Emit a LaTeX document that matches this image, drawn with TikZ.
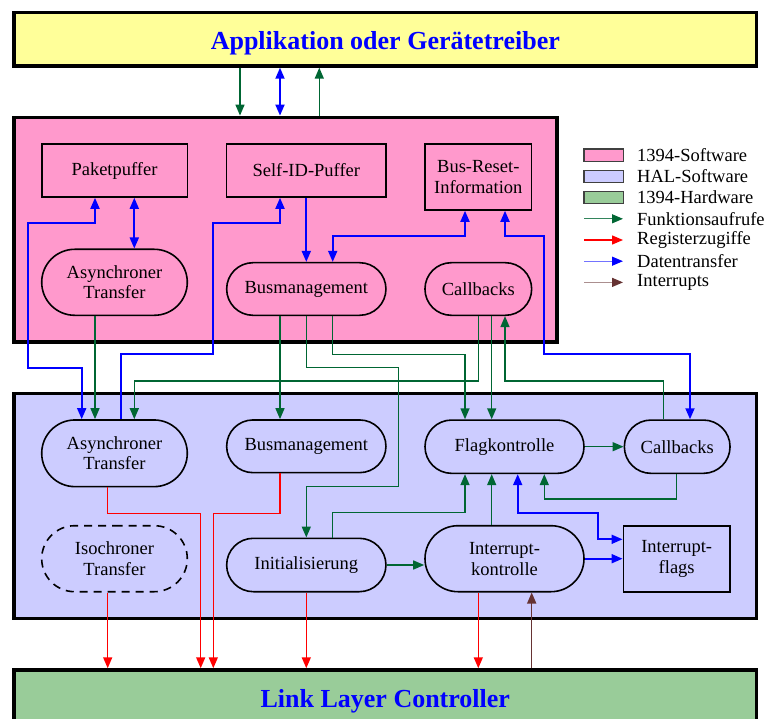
\documentclass[tikz,border=0pt]{standalone}
\usepackage{fontspec}
\setmainfont{Liberation Serif}
\usetikzlibrary{arrows.meta,shapes.misc}

\definecolor{swpink}{HTML}{FF99CC}
\definecolor{halblue}{HTML}{CCCCFF}
\definecolor{appyellow}{HTML}{FFFF99}
\definecolor{hwgreen}{HTML}{99CC99}
\definecolor{callgreen}{HTML}{006633}
\definecolor{irqbrown}{HTML}{663333}

\newcommand{\normtext}{\fontsize{18.5}{20.7}\selectfont}
\newcommand{\titletext}{\bfseries\fontsize{26}{30}\selectfont}

\tikzset{
  layer/.style={draw, line width=3.5pt, inner sep=0pt},
  box/.style={draw, line width=1.6pt, inner sep=0pt, align=center, font=\normtext},
  pill/.style={box, rounded rectangle},
  fcall/.style={callgreen, line width=1.5pt, ->},
  reg/.style={red, line width=1.5pt, ->},
  data/.style={blue, line width=1.8pt},
  irq/.style={irqbrown, line width=1.5pt, ->},
  legtext/.style={anchor=west, inner sep=0pt, font=\normtext}
}

\begin{document}
\begin{tikzpicture}[x=1pt, y=-1pt, >={Triangle[length=11pt,width=9pt]}]
\useasboundingbox (0,0) rectangle (768,719);

%Layers
\node[layer, fill=appyellow, minimum width=742.7pt, minimum height=53.3pt] (app) at (385.3,39.3) {};
\node[layer, fill=swpink, minimum width=543pt, minimum height=224.7pt] (sw) at (285.5,229.7) {};
\node[layer, fill=halblue, minimum width=742.7pt, minimum height=225pt] (hal) at (385.3,505.8) {};
\node[layer, fill=hwgreen, minimum width=742.7pt, minimum height=100pt] (llc) at (385.3,720) {};
\node[font=\titletext, text=blue, anchor=base] (apptitle) at (385.3,50) {Applikation oder Gerätetreiber};
\node[font=\titletext, text=blue, anchor=base] (llctitle) at (385.3,707) {Link Layer Controller};

%1394-Software
\node[box, minimum width=145.6pt, minimum height=53pt] (pbuf) at (114.5,170.5) {Paketpuffer};
\node[box, minimum width=159.3pt, minimum height=53pt] (sidbuf) at (306.3,170.5) {Self-ID-Puffer};
\node[box, minimum width=106.7pt, minimum height=66pt] (bri) at (478.3,177) {Bus-Reset-\\Information};
\node[pill, minimum width=145.6pt, minimum height=66pt] (pasync) at (114.5,282.3) {Asynchroner\\Transfer};
\node[pill, minimum width=159.3pt, minimum height=52.6pt] (pbus) at (306.3,289) {Busmanagement};
\node[pill, minimum width=106.7pt, minimum height=52.6pt] (pcb) at (478.3,289) {Callbacks};

%HAL-Software
\node[pill, minimum width=145.6pt, minimum height=66.7pt] (hasync) at (114.5,453.3) {Asynchroner\\Transfer};
\node[pill, minimum width=159.3pt, minimum height=52.7pt] (hbus) at (306.3,446.3) {Busmanagement};
\node[pill, dash pattern=on 8pt off 6pt, minimum width=145.6pt, minimum height=66pt] (iso) at (114.5,558.7) {Isochroner\\Transfer};
\node[pill, minimum width=159.3pt, minimum height=53.4pt] (init) at (306.3,565) {Initialisierung};
\node[pill, minimum width=159pt, minimum height=53.3pt] (flag) at (504.5,446.7) {Flagkontrolle};
\node[pill, minimum width=105.7pt, minimum height=53.3pt] (hcb) at (677.2,446.7) {Callbacks};
\node[pill, minimum width=159pt, minimum height=66pt] (ictl) at (504.5,558.7) {Interrupt-\\kontrolle};
\node[box, minimum width=106.7pt, minimum height=66pt] (iflags) at (676.7,558.7) {Interrupt-\\flags};

%Application <-> 1394-Software
\draw[fcall] ([xshift=-145.3pt]app.south) -- ([xshift=-45.5pt]sw.north);
\draw[data, <->] ([xshift=-105.3pt]app.south) -- ([xshift=-5.5pt]sw.north);
\draw[fcall] ([xshift=33.8pt]sw.north) -- ([xshift=-66pt]app.south);

%Data transfer
\draw[data, <->] ([xshift=19.8pt]pbuf.south) -- ([xshift=19.8pt]pasync.north);
\draw[data, <->] ([xshift=-19.5pt]pbuf.south) |- (28.3,222.7) |- (81.7,367.7) -- ([xshift=-32.8pt]hasync.north);
\draw[data, ->] ([xshift=6.2pt]hasync.north) |- (213.3,354.3) |- (280,222.7) -- ([xshift=-26.3pt]sidbuf.south);
\draw[data, ->] (sidbuf.south) -- (pbus.north);
\draw[data, <->] ([xshift=26.4pt]pbus.north) |- (465,236) -- ([xshift=-13.3pt]bri.south);
\draw[data, <->] ([xshift=26.7pt]bri.south) |- (544.3,236) |- (690,354.3) -- ([xshift=12.8pt]hcb.north);
\draw[data, <->] ([xshift=13.2pt]flag.south) |- (597.7,512.7) |- ([yshift=19.4pt]iflags.west);
\draw[data, ->] (ictl.east) -- (iflags.west);

%Function calls
\draw[fcall] ([xshift=-19.5pt]pasync.south) -- ([xshift=-19.5pt]hasync.north);
\draw[fcall] ([xshift=-26.3pt]pbus.south) -- ([xshift=-26.3pt]hbus.north);
\draw[fcall] (pbus.south) |- (398.3,367.7) |- (306.3,486.7) -- (init.north);
\draw[fcall] ([xshift=26.4pt]pbus.south) |- (465,354.3) -- ([xshift=-39.5pt]flag.north);
\draw[fcall] (pcb.south) |- (134.3,381) -- ([xshift=19.8pt]hasync.north);
\draw[fcall] ([xshift=13.4pt]pcb.south) -- ([xshift=-12.8pt]flag.north);
\draw[fcall] ([xshift=-13.9pt]hcb.north) |- (505,381) -- ([xshift=26.7pt]pcb.south);
\draw[fcall] (flag.east) -- (hcb.west);
\draw[fcall] ([xshift=-0.5pt]hcb.south) |- (544.3,499) -- ([xshift=39.8pt]flag.south);
\draw[fcall] ([xshift=26.4pt]init.north) |- (465,512.7) -- ([xshift=-39.5pt]flag.south);
\draw[fcall] ([xshift=-12.8pt]ictl.north) -- ([xshift=-12.8pt]flag.south);
\draw[fcall] (init.east) -- (init.east -| ictl.west);

%Register access
\draw[reg] ([xshift=-6.8pt]hasync.south) -- ++(0,26) -| ([xshift=-184.6pt]llc.north);
\draw[reg] ([xshift=-26.3pt]hbus.south) -- ++(0,40) -| ([xshift=-172pt]llc.north);
\draw[reg] ([xshift=-6.8pt]iso.south) -- ([xshift=-277.6pt]llc.north);
\draw[reg] (init.south) -- ([xshift=-79pt]llc.north);
\draw[reg] ([xshift=-26.2pt]ictl.south) -- ([xshift=93pt]llc.north);

%Interrupts
\draw[irq] ([xshift=146.4pt]llc.north) -- ([xshift=27.2pt]ictl.south);

%Legend
\foreach \c/\t [count=\i from 0] in {swpink/1394-Software, halblue/HAL-Software, hwgreen/1394-Hardware} {
  \node[draw=black!75, line width=1.2pt, fill=\c, minimum width=39.3pt, minimum height=12.3pt, inner sep=0pt] (legbox\i) at (603.6,155.2+21.2*\i) {};
  \node[legtext] (legtext\i) at (637,155.2+21.2*\i) {\t};
}
\foreach \c/\h/\t [count=\i from 3] in {callgreen!80/callgreen/Funktionsaufrufe, red/red/Registerzugiffe, blue!55/blue/Datentransfer, irqbrown!55/irqbrown/Interrupts} {
  \node[legtext] (legtext\i) at (637,155.2+21.2*\i) {\t};
  \draw[\c, line width=1.3pt, -{Triangle[length=11pt,width=9pt,color=\h]}] ([xshift=-53pt]legtext\i.west) -- ([xshift=-14pt]legtext\i.west);
}
\end{tikzpicture}
\end{document}
